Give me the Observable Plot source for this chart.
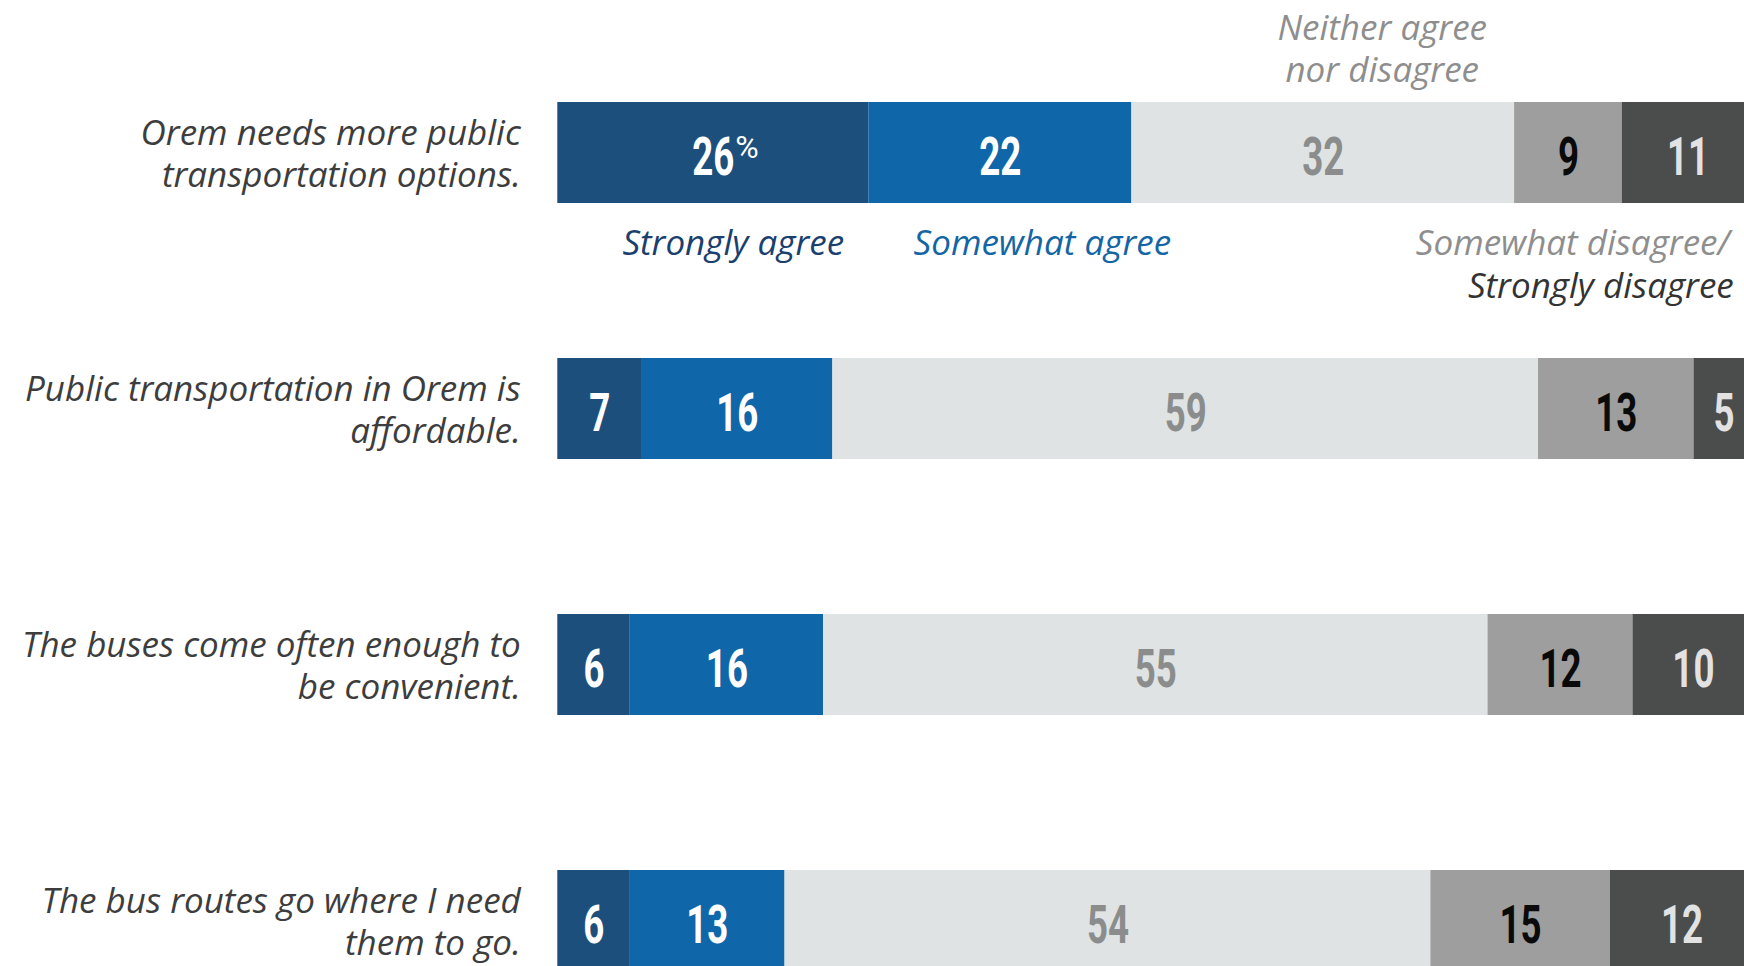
<!DOCTYPE html>
<html>
<head>
<meta charset="utf-8">
<script src="https://cdn.jsdelivr.net/npm/d3@7"></script>
<script src="https://cdn.jsdelivr.net/npm/@observablehq/plot@0.6"></script>
<style>
  html, body { margin: 0; padding: 0; background: #ffffff; overflow: hidden; }
  #chart svg { display: block; overflow: hidden; }
</style>
</head>
<body>
<div id="chart"></div>
<script>
// ---- data ----
const questions = [
  "Orem needs more public transportation options.",
  "Public transportation in Orem is affordable.",
  "The buses come often enough to be convenient.",
  "The bus routes go where I need them to go."
];
const questionLabels = [
  "Orem needs more public\ntransportation options.",
  "Public transportation in Orem is\naffordable.",
  "The buses come often enough to\nbe convenient.",
  "The bus routes go where I need\nthem to go."
];
const responses = ["Strongly agree", "Somewhat agree", "Neither agree nor disagree", "Somewhat disagree", "Strongly disagree"];
const stronglyAgree    = [26, 7, 6, 6];
const somewhatAgree    = [22, 16, 16, 13];
const neitherAgree     = [32, 59, 55, 54];
const somewhatDisagree = [9, 13, 12, 15];
const stronglyDisagree = [11, 5, 10, 12];
const series = [stronglyAgree, somewhatAgree, neitherAgree, somewhatDisagree, stronglyDisagree];

// ---- styles ----
const barColors = ["#1d4f7d", "#0f66a9", "#e0e3e4", "#9d9e9d", "#4b4c4c"];
const numberColors = ["#ffffff", "#ffffff", "#8b8d8d", "#0a0a0a", "#e2e2e2"];
const labelFont = "'Open Sans', Lato, sans-serif";
const numberFont = "Roboto, 'DejaVu Sans', sans-serif";
const labelSize = 35;

const data = questions.flatMap((q, i) => responses.map((r, j) => ({question: q, response: r, value: series[j][i]})));
const ri = d => responses.indexOf(d.response);
const isFirstRow = d => d.question === questions[0];
const stack = (fn, opts) => fn({offset: "normalize", x: "value", y: "question", ...opts});

function legendText(resp, label, opts, fn = Plot.stackX) {
  return Plot.text(data, stack(fn, {
    text: d => (isFirstRow(d) && d.response === resp) ? label : null,
    fontFamily: labelFont, fontStyle: "italic", fontSize: labelSize,
    lineHeight: 1.2,
    ...opts
  }));
}

const chart = Plot.plot({
  width: 1744,
  height: 966,
  margin: 0,
  x: {domain: [0, 1], range: [557.3, 1753.3], axis: null},
  y: {domain: questions, range: [102, 972], paddingInner: 0.605, paddingOuter: 0, axis: null},
  color: {type: "identity"},
  marks: [
    Plot.barX(data, stack(Plot.stackX, {fill: d => barColors[ri(d)]})),
    Plot.text(data, stack(Plot.stackX, {
      text: d => String(d.value),
      fill: d => numberColors[ri(d)],
      fontFamily: numberFont, fontWeight: "bold", fontSize: 54, dy: 5
    })),
    Plot.text(data, stack(Plot.stackX, {
      text: d => (isFirstRow(d) && d.response === responses[0]) ? "%" : null,
      fill: "#ffffff", textAnchor: "start",
      fontFamily: numberFont, fontSize: 32, dx: 22, dy: -5
    })),
    Plot.text(questions, {
      x: 0, y: d => d,
      text: (d, i) => questionLabels[i],
      textAnchor: "end", dx: -37, lineHeight: 1.2,
      fontFamily: labelFont, fontStyle: "italic", fontSize: labelSize, fill: "#3d3d3d"
    }),
    legendText(responses[0], "Strongly agree", {fill: "#1b3f6e", lineAnchor: "bottom", dx: 20, dy: 101.5}),
    legendText(responses[1], "Somewhat agree", {fill: "#1366a6", lineAnchor: "bottom", dx: 42, dy: 101.5}),
    legendText(responses[2], "Neither agree\nnor disagree", {fill: "#8e8e8e", lineAnchor: "bottom", dx: 59, dy: -71.5}),
    legendText(responses[4], "Somewhat disagree/", {fill: "#8e8e8e", lineAnchor: "bottom", textAnchor: "end", dx: -24, dy: 101.5}, Plot.stackX2),
    legendText(responses[4], "Strongly disagree", {fill: "#333333", lineAnchor: "bottom", textAnchor: "end", dx: -20, dy: 145}, Plot.stackX2)
  ]
});

// condensed look for the in-bar numbers (horizontal squeeze around each anchor)
d3.select(chart).selectAll('g[font-size="54"] text').each(function() {
  const t = this.getAttribute("transform") || "";
  this.setAttribute("transform", t + " scale(0.68,1)");
});
document.getElementById("chart").appendChild(chart);
</script>
</body>
</html>
